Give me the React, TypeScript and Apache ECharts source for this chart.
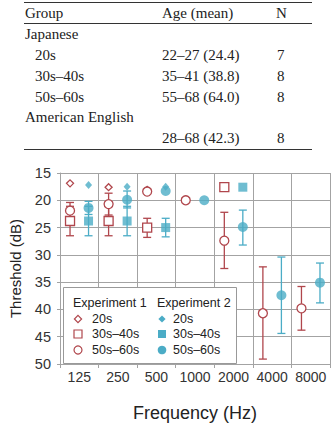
import React, { useEffect, useRef } from "react";
import * as echarts from "echarts";

const freqs = ["125", "250", "500", "1000", "2000", "4000", "8000"];

// Experiment 1 (Japanese groups)
const exp1_20s = [16.9, 17.6, 18.1, null, null, null, null];
const exp1_3040 = [23.8, 23.8, 25.0, null, 17.6, null, null];
const exp1_5060 = [21.9, 20.7, 18.4, 20.0, 27.4, 40.7, 39.8];
const exp1_3040_lo = [21.1, 21.1, 23.3, null, null, null, null];
const exp1_3040_hi = [26.5, 26.5, 26.8, null, null, null, null];
const exp1_5060_lo = [20.4, 18.7, null, null, 22.2, 32.2, 35.8];
const exp1_5060_hi = [23.4, 22.7, null, null, 32.5, 49.1, 43.8];

// Experiment 2
const exp2_20s = [17.2, 17.5, 17.5, null, null, null, null];
const exp2_3040 = [23.8, 23.8, 25.0, null, 17.6, null, null];
const exp2_5060 = [21.4, 19.9, 18.3, 20.0, 24.9, 37.4, 35.1];
const exp2_3040_lo = [21.1, 21.1, 23.3, null, null, null, null];
const exp2_3040_hi = [26.5, 26.5, 26.7, null, null, null, null];
const exp2_5060_lo = [20.2, 18.3, null, null, 21.8, 30.4, 31.5];
const exp2_5060_hi = [22.6, 21.4, null, null, 28.2, 44.4, 38.8];

const yTicks = [15, 50, 5]; // min, max, interval

// Table
const tableHeader = ["Group", "Age (mean)", "N"];
const tableRows = [
  ["Japanese", "", ""],
  ["20s", "22–27 (24.4)", "7"],
  ["30s–40s", "35–41 (38.8)", "8"],
  ["50s–60s", "55–68 (64.0)", "8"],
  ["American English", "", ""],
  ["", "28–68 (42.3)", "8"],
];
const rowIndent = [false, true, true, true, false, true];

const RED = "#b0464c";
const BLUE = "#4bacc6";
const GRID = "#a3a3a3";
const SANS = "Liberation Sans, Arial, sans-serif";
const SERIF = "Liberation Serif, Times New Roman, serif";

const OFF1 = 0.26;
const OFF2 = 0.74;

function pts(vals: (number | null)[], off: number) {
  const out: number[][] = [];
  vals.forEach((v, i) => {
    if (v !== null) out.push([i + off, v]);
  });
  return out;
}
function errs(lo: (number | null)[], hi: (number | null)[], off: number) {
  const out: number[][] = [];
  lo.forEach((l, i) => {
    const h = hi[i];
    if (l !== null && h !== null) out.push([i + off, l, h]);
  });
  return out;
}

function errSeries(data: number[][], color: string) {
  return {
    type: "custom",
    xAxisIndex: 1,
    yAxisIndex: 0,
    z: 2,
    encode: { x: 0, y: [1, 2] },
    data,
    renderItem: (params: any, api: any) => {
      const x = api.value(0);
      const p1 = api.coord([x, api.value(1)]);
      const p2 = api.coord([x, api.value(2)]);
      const w = 4;
      const style = { stroke: color, lineWidth: 1.3 };
      return {
        type: "group",
        children: [
          { type: "line", shape: { x1: p1[0], y1: p1[1], x2: p2[0], y2: p2[1] }, style },
          { type: "line", shape: { x1: p1[0] - w, y1: p1[1], x2: p1[0] + w, y2: p1[1] }, style },
          { type: "line", shape: { x1: p2[0] - w, y1: p2[1], x2: p2[0] + w, y2: p2[1] }, style },
        ],
      };
    },
  };
}

function scat(name: string, data: number[][], symbol: string, size: any, color: string, filled: boolean) {
  return {
    name,
    type: "scatter",
    xAxisIndex: 1,
    yAxisIndex: 0,
    z: 3,
    symbol,
    symbolSize: size,
    data,
    itemStyle: filled
      ? { color, borderWidth: 0 }
      : { color: "#ffffff", borderColor: color, borderWidth: 1.3, opacity: 1 },
  };
}

function txt(text: string, x: number, y: number, font: string, fill = "#222", align = "left") {
  return {
    type: "text",
    x,
    y,
    z: 101,
    style: { text, font, fill, textAlign: align, textVerticalAlign: "middle", verticalAlign: "middle" },
  };
}

export default function App() {
  const ref = useRef<HTMLDivElement>(null);
  useEffect(() => {
    if (!ref.current) return;
    const chart = echarts.init(ref.current, null, { renderer: "svg" });

    const graphics: any[] = [];
    // table rules
    graphics.push({ type: "line", z: 100, shape: { x1: 24, y1: 2.5, x2: 312, y2: 2.5 }, style: { stroke: "#333", lineWidth: 1.2 } });
    graphics.push({ type: "line", z: 100, shape: { x1: 24, y1: 23.5, x2: 312, y2: 23.5 }, style: { stroke: "#333", lineWidth: 1 } });
    graphics.push({ type: "line", z: 100, shape: { x1: 24, y1: 149.5, x2: 312, y2: 149.5 }, style: { stroke: "#333", lineWidth: 1.2 } });
    const tfont = "15px " + SERIF;
    graphics.push(txt(tableHeader[0], 25, 13, tfont));
    graphics.push(txt(tableHeader[1], 162, 13, tfont));
    graphics.push(txt(tableHeader[2], 276, 13, tfont));
    const rowY = [34, 55, 76, 97, 117, 138];
    tableRows.forEach((r, i) => {
      if (r[0]) graphics.push(txt(r[0], rowIndent[i] ? 35 : 25, rowY[i], tfont));
      if (r[1]) graphics.push(txt(r[1], 162, rowY[i], tfont));
      if (r[2]) graphics.push(txt(r[2], 277, rowY[i], tfont));
    });

    // legend box
    graphics.push({ type: "rect", z: 100, shape: { x: 63.5, y: 287.5, width: 173, height: 76 }, style: { fill: "#fff", stroke: "#999", lineWidth: 1 } });
    const lfont = "12.5px " + SANS;
    graphics.push(txt("Experiment 1", 73, 303, lfont, "#222"));
    graphics.push(txt("Experiment 2", 157, 303, lfont, "#222"));
    const ly = [319, 334, 350];
    const labs = ["20s", "30s–40s", "50s–60s"];
    labs.forEach((l, i) => {
      graphics.push(txt(l, 92, ly[i], lfont, "#222"));
      graphics.push(txt(l, 173, ly[i], lfont, "#222"));
    });
    // legend markers
    const d = 3.6;
    graphics.push({ type: "polygon", z: 101, shape: { points: [[78, 319 - d], [78 + d, 319], [78, 319 + d], [78 - d, 319]] }, style: { fill: "#fff", stroke: RED, lineWidth: 1.2 } });
    graphics.push({ type: "polygon", z: 101, shape: { points: [[162, 319 - d], [162 + d, 319], [162, 319 + d], [162 - d, 319]] }, style: { fill: BLUE } });
    graphics.push({ type: "rect", z: 101, shape: { x: 74, y: 330, width: 8, height: 8 }, style: { fill: "#fff", stroke: RED, lineWidth: 1.2 } });
    graphics.push({ type: "rect", z: 101, shape: { x: 158, y: 330, width: 8, height: 8 }, style: { fill: BLUE } });
    graphics.push({ type: "circle", z: 101, shape: { cx: 78, cy: 350, r: 4 }, style: { fill: "#fff", stroke: RED, lineWidth: 1.2 } });
    graphics.push({ type: "circle", z: 101, shape: { cx: 162, cy: 350, r: 4.3 }, style: { fill: BLUE } });

    chart.setOption({
      animation: false,
      backgroundColor: "#ffffff",
      grid: { left: 58, top: 173, width: 272, height: 191, containLabel: false },
      xAxis: [
        {
          type: "category",
          data: freqs,
          boundaryGap: true,
          position: "bottom",
          axisLine: { show: true, lineStyle: { color: GRID, width: 1 } },
          axisTick: { show: true, length: 4, alignWithLabel: false, lineStyle: { color: GRID } },
          splitLine: { show: true, interval: 0, lineStyle: { color: GRID, width: 1 } },
          axisLabel: { fontSize: 14, fontFamily: SANS, color: "#333", margin: 6, interval: 0 },
          name: "Frequency (Hz)",
          nameLocation: "middle",
          nameGap: 40,
          nameTextStyle: { fontSize: 18, fontFamily: SANS, color: "#222" },
        },
        { type: "value", min: 0, max: 7, show: false },
      ],
      yAxis: {
        type: "value",
        inverse: true,
        min: yTicks[0],
        max: yTicks[1],
        interval: yTicks[2],
        axisLine: { show: true, lineStyle: { color: GRID, width: 1 } },
        axisTick: { show: true, length: 3, lineStyle: { color: GRID } },
        splitLine: { show: true, lineStyle: { color: GRID, width: 1 } },
        axisLabel: { fontSize: 14.5, fontFamily: SANS, color: "#333", margin: 9 },
        name: "Threshold (dB)",
        nameLocation: "middle",
        nameGap: 37,
        nameTextStyle: { fontSize: 15, fontFamily: SANS, color: "#222" },
      },
      series: [
        errSeries(errs(exp1_3040_lo, exp1_3040_hi, OFF1), RED),
        errSeries(errs(exp1_5060_lo, exp1_5060_hi, OFF1), RED),
        errSeries(errs(exp2_3040_lo, exp2_3040_hi, OFF2), BLUE),
        errSeries(errs(exp2_5060_lo, exp2_5060_hi, OFF2), BLUE),
        scat("E1 20s", pts(exp1_20s, OFF1), "diamond", [7, 7], RED, false),
        scat("E1 30s–40s", pts(exp1_3040, OFF1), "rect", 9, RED, false),
        scat("E1 50s–60s", pts(exp1_5060, OFF1), "circle", 9, RED, false),
        scat("E2 20s", pts(exp2_20s, OFF2), "diamond", [7, 8], BLUE, true),
        scat("E2 30s–40s", pts(exp2_3040, OFF2), "rect", 9, BLUE, true),
        scat("E2 50s–60s", pts(exp2_5060, OFF2), "circle", 10, BLUE, true),
      ],
      graphic: { elements: graphics },
    });
    return () => chart.dispose();
  }, []);
  return <div ref={ref} style={{ position: "absolute", left: 0, top: 0, width: 333, height: 424 }} />;
}
